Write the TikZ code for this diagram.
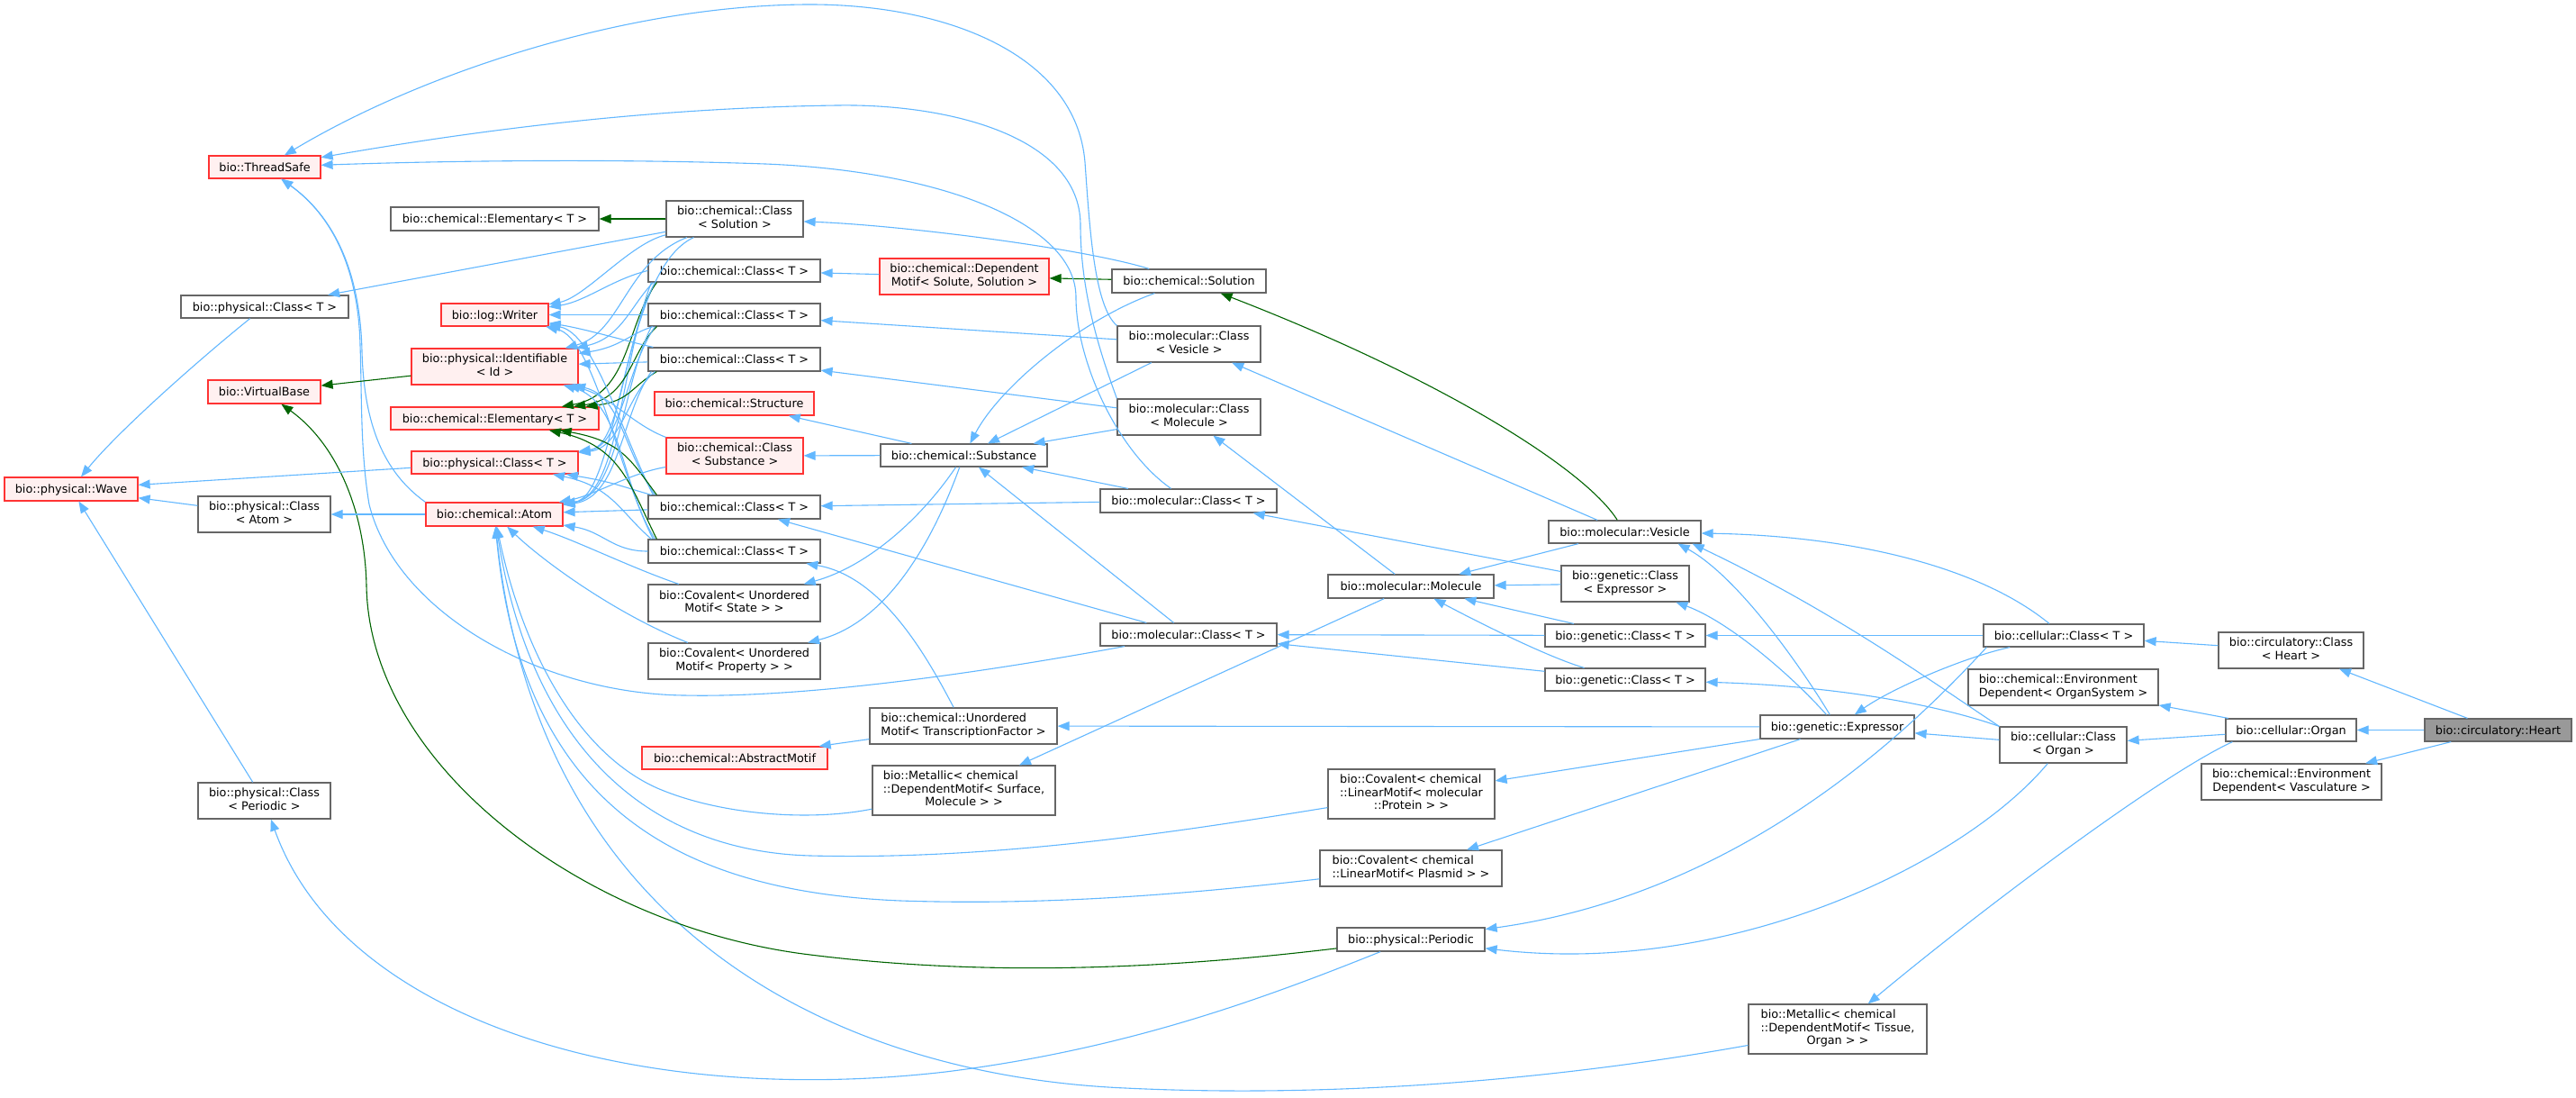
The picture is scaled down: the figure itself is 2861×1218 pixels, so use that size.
\documentclass[tikz,border=0pt]{standalone}
\usepackage{fontspec}
\setmainfont{DejaVu Sans}
\usetikzlibrary{arrows.meta}
\definecolor{edgeblue}{HTML}{63B8FF}
\definecolor{edgegreen}{HTML}{006400}
\definecolor{boxgray}{HTML}{666666}
\definecolor{boxred}{HTML}{FF3333}
\definecolor{fillred}{HTML}{FFF0F0}
\definecolor{fillgray}{HTML}{999999}
\newcommand{\twoln}[2]{\begin{tabular}{@{}l@{}}#1\\\multicolumn{1}{@{}c@{}}{#2}\end{tabular}}
\newcommand{\threeln}[3]{\begin{tabular}{@{}l@{}}#1\\#2\\\multicolumn{1}{@{}c@{}}{#3}\end{tabular}}
\begin{document}
\begin{tikzpicture}[x=1pt,y=-1pt,
  box/.style={draw, line width=1.2pt, inner sep=0pt, text=black, font=\fontsize{12.8}{14.5}\selectfont},
  wbox/.style={box, draw=boxgray, fill=white},
  rbox/.style={box, draw=boxred, fill=fillred},
  gbox/.style={box, draw=boxgray, fill=fillgray},
  one/.style={text height=10pt, text depth=1pt},
  be/.style={draw=edgeblue, line width=1.1pt, -{Triangle[length=13pt,width=10pt]}},
  ge/.style={draw=edgegreen, line width=1.1pt, -{Triangle[length=13pt,width=10pt]}}]
\fill[white] (0,0) rectangle (2861,1218);
\useasboundingbox (0,0) rectangle (2861,1218);

% ---------- nodes ----------
\node[rbox,one,minimum width=124pt,minimum height=25pt] (ts) at (294,185.5) {bio::ThreadSafe};
\node[wbox,one,minimum width=231pt,minimum height=26pt] (elemW) at (549.5,243) {bio::chemical::Elementary< T >};
\node[wbox,one,minimum width=186pt,minimum height=25pt] (physW) at (294,340.5) {bio::physical::Class< T >};
\node[rbox,one,minimum width=119pt,minimum height=25pt] (writer) at (549.5,349.5) {bio::log::Writer};
\node[rbox,minimum width=185pt,minimum height=40pt] (ident) at (549.5,407) {\twoln{bio::physical::Identifiable}{< Id >}};
\node[rbox,one,minimum width=125pt,minimum height=26pt] (vbase) at (293.5,435) {bio::VirtualBase};
\node[rbox,one,minimum width=231pt,minimum height=25pt] (elemR) at (549.5,464.5) {bio::chemical::Elementary< T >};
\node[rbox,one,minimum width=185pt,minimum height=25pt] (physR) at (549.5,513.5) {bio::physical::Class< T >};
\node[rbox,one,minimum width=148pt,minimum height=26pt] (wave) at (79,543) {bio::physical::Wave};
\node[wbox,minimum width=147pt,minimum height=40pt] (clsAtom) at (293.5,571) {\twoln{bio::physical::Class}{< Atom >}};
\node[rbox,one,minimum width=152pt,minimum height=26pt] (atom) at (549,571) {bio::chemical::Atom};
\node[wbox,minimum width=147pt,minimum height=40pt] (clsPer) at (293.5,889) {\twoln{bio::physical::Class}{< Periodic >}};

\node[wbox,minimum width=152pt,minimum height=40pt] (cs) at (816,243) {\twoln{bio::chemical::Class}{< Solution >}};
\node[wbox,one,minimum width=191pt,minimum height=25pt] (c1) at (815.5,300.5) {bio::chemical::Class< T >};
\node[wbox,one,minimum width=191pt,minimum height=25pt] (c2) at (815.5,349.5) {bio::chemical::Class< T >};
\node[wbox,one,minimum width=191pt,minimum height=26pt] (c3) at (815.5,399) {bio::chemical::Class< T >};
\node[rbox,one,minimum width=177pt,minimum height=26pt] (struct) at (815.5,448) {bio::chemical::Structure};
\node[rbox,minimum width=152pt,minimum height=40pt] (csub) at (816,506) {\twoln{bio::chemical::Class}{< Substance >}};
\node[wbox,one,minimum width=191pt,minimum height=26pt] (c4) at (815.5,563) {bio::chemical::Class< T >};
\node[wbox,one,minimum width=191pt,minimum height=26pt] (c5) at (815.5,612) {bio::chemical::Class< T >};
\node[wbox,minimum width=191pt,minimum height=41pt] (covState) at (815.5,669.5) {\twoln{bio::Covalent< Unordered}{Motif< State > >}};
\node[wbox,minimum width=191pt,minimum height=40pt] (covProp) at (815.5,734) {\twoln{bio::Covalent< Unordered}{Motif< Property > >}};
\node[rbox,one,minimum width=206pt,minimum height=25pt] (absMotif) at (816,841.5) {bio::chemical::AbstractMotif};

\node[rbox,minimum width=188pt,minimum height=40pt] (depMotif) at (1071,307) {\twoln{bio::chemical::Dependent}{Motif< Solute, Solution >}};
\node[wbox,one,minimum width=185pt,minimum height=25pt] (subst) at (1070.5,505.5) {bio::chemical::Substance};
\node[wbox,minimum width=208pt,minimum height=40pt] (unord) at (1070,806) {\twoln{bio::chemical::Unordered}{Motif< TranscriptionFactor >}};
\node[wbox,minimum width=203pt,minimum height=55pt] (metSurf) at (1070.5,877.5) {\threeln{bio::Metallic< chemical}{::DependentMotif< Surface,}{Molecule > >}};

\node[wbox,one,minimum width=171pt,minimum height=26pt] (sol) at (1320.5,312) {bio::chemical::Solution};
\node[wbox,minimum width=159pt,minimum height=40pt] (mcVes) at (1320.5,382) {\twoln{bio::molecular::Class}{< Vesicle >}};
\node[wbox,minimum width=159pt,minimum height=40pt] (mcMol) at (1320.5,463) {\twoln{bio::molecular::Class}{< Molecule >}};
\node[wbox,one,minimum width=196pt,minimum height=26pt] (mcA) at (1320,556) {bio::molecular::Class< T >};
\node[wbox,one,minimum width=196pt,minimum height=25pt] (mcB) at (1320,704.5) {bio::molecular::Class< T >};

\node[wbox,one,minimum width=184pt,minimum height=26pt] (molecule) at (1567,651) {bio::molecular::Molecule};
\node[wbox,minimum width=185pt,minimum height=55pt] (covProt) at (1567.5,881.5) {\threeln{bio::Covalent< chemical}{::LinearMotif< molecular}{::Protein > >}};
\node[wbox,minimum width=202pt,minimum height=40pt] (covPlas) at (1567,964) {\twoln{bio::Covalent< chemical}{::LinearMotif< Plasmid > >}};
\node[wbox,one,minimum width=164pt,minimum height=26pt] (periodic) at (1567,1043) {bio::physical::Periodic};

\node[wbox,one,minimum width=169pt,minimum height=25pt] (vesicle) at (1804.5,590.5) {bio::molecular::Vesicle};
\node[wbox,minimum width=142pt,minimum height=40pt] (gcExp) at (1805,648) {\twoln{bio::genetic::Class}{< Expressor >}};
\node[wbox,one,minimum width=178pt,minimum height=25pt] (gcA) at (1805,705.5) {bio::genetic::Class< T >};
\node[wbox,one,minimum width=178pt,minimum height=25pt] (gcB) at (1805,754.5) {bio::genetic::Class< T >};

\node[wbox,one,minimum width=171pt,minimum height=26pt] (expr) at (2040.5,807) {bio::genetic::Expressor};
\node[wbox,minimum width=198pt,minimum height=55pt] (metTis) at (2041,1142.5) {\threeln{bio::Metallic< chemical}{::DependentMotif< Tissue,}{Organ > >}};

\node[wbox,one,minimum width=178pt,minimum height=25pt] (cellT) at (2292,705.5) {bio::cellular::Class< T >};
\node[wbox,minimum width=211pt,minimum height=40pt] (envOS) at (2291.5,763) {\twoln{bio::chemical::Environment}{Dependent< OrganSystem >}};
\node[wbox,minimum width=141pt,minimum height=40pt] (cellOrgan) at (2291.5,827) {\twoln{bio::cellular::Class}{< Organ >}};

\node[wbox,minimum width=161pt,minimum height=40pt] (circCls) at (2544.5,722) {\twoln{bio::circulatory::Class}{< Heart >}};
\node[wbox,one,minimum width=145pt,minimum height=25pt] (organ) at (2544.5,810.5) {bio::cellular::Organ};
\node[wbox,minimum width=200pt,minimum height=40pt] (envVas) at (2545,868) {\twoln{bio::chemical::Environment}{Dependent< Vasculature >}};
\node[gbox,one,minimum width=163pt,minimum height=25pt] (heart) at (2774.5,810.5) {bio::circulatory::Heart};

% ---------- right part ----------
\draw[be] (heart) -- (organ);
\draw[be] (heart) -- (circCls);
\draw[be] (heart) -- (envVas);
\draw[be] (circCls) -- (cellT);
\draw[be] (organ) -- (envOS);
\draw[be] (organ) -- (cellOrgan);
\draw[be] ([xshift=8pt]organ.south west) .. controls (2400,860) and (2200,1010) .. (metTis);
\draw[be] (cellOrgan) -- (expr);
\draw[be] (cellOrgan.north west) .. controls (2150,760) and (2040,680) .. ([xshift=-10pt]vesicle.south east);
\draw[be] (cellOrgan) .. controls (2180,960) and (1920,1085) .. (periodic);
\draw[be] (cellOrgan.north west) .. controls (2160,785) and (2050,762) .. (gcB);
\draw[be] (cellT) .. controls (2180,730) and (2100,765) .. (expr);
\draw[be] (cellT) -- (gcA);
\draw[be] (cellT) .. controls (2200,630) and (2060,595) .. (vesicle);
\draw[be] ([xshift=4pt]cellT.south west) .. controls (2140,790) and (1950,990) .. (periodic);

\draw[be] (expr) .. controls (2000,740) and (1930,640) .. ([xshift=-26pt]vesicle.south east);
\draw[be] (expr) .. controls (1990,750) and (1920,690) .. (gcExp);
\draw[be] (expr) -- (unord);
\draw[be] (expr) -- (covProt);
\draw[be] (expr) -- (covPlas);

\draw[ge] (vesicle) .. controls (1760,520) and (1600,420) .. (sol);
\draw[be] (vesicle) -- (mcVes);
\draw[be] (vesicle) -- (molecule);
\draw[be] (molecule) -- (mcMol);
\draw[be] (molecule) -- (metSurf);
\draw[be] (gcExp) -- (molecule);
\draw[be] (gcExp) -- (mcA);
\draw[be] (gcA) -- (molecule);
\draw[be] (gcA) -- (mcB);
\draw[be] (gcB) .. controls (1720,730) and (1640,690) .. (molecule);
\draw[be] (gcB) -- (mcB);

% ---------- middle ----------
\draw[ge] (sol) -- (depMotif);
\draw[be] (sol) .. controls (1200,275) and (1000,250) .. (cs);
\draw[be] (sol) .. controls (1200,355) and (1110,430) .. (subst);
\draw[be] (mcVes) -- (c2);
\draw[be] (mcVes) -- (subst);
\draw[be] (mcMol) -- (c3);
\draw[be] (mcMol) -- (subst);
\draw[be] (mcA) -- (c4);
\draw[be] (mcA) -- (subst);
\draw[be] (mcB) -- (c4);
\draw[be] (mcB) -- (subst);
\draw[be] (subst) -- (struct);
\draw[be] (subst) -- (csub);
\draw[be] (subst) .. controls (1020,580) and (960,630) .. (covState);
\draw[be] (subst) .. controls (1040,590) and (990,690) .. (covProp);
\draw[be] (unord) .. controls (1030,730) and (980,640) .. (c5);
\draw[be] (unord) -- (absMotif);
\draw[be] (depMotif) -- (c1);

% ---------- arcs to ThreadSafe ----------
\draw[be] (mcVes.north west) .. controls (1215,340) and (1210,250) .. (1205,180) .. controls (1195,60) and (1050,5) .. (900,5) .. controls (700,5) and (470,80) .. (ts);
\draw[be] (mcMol.north west) .. controls (1225,400) and (1200,330) .. (1200,250) .. controls (1200,150) and (1050,115) .. (930,117) .. controls (700,120) and (500,150) .. (ts);
\draw[be] (mcA) .. controls (1240,500) and (1195,400) .. (1195,330) .. controls (1195,250) and (1050,190) .. (850,182) .. controls (650,175) and (450,180) .. (ts);
\draw[be] (mcB) .. controls (1100,745) and (900,775) .. (760,772) .. controls (600,770) and (440,680) .. (410,560) .. controls (400,500) and (402,440) .. (400,383) .. controls (398,300) and (370,240) .. (ts);
\draw[be] (atom.north west) .. controls (420,520) and (404,460) .. (402,390) .. controls (400,300) and (370,240) .. (ts);

% ---------- left bundle ----------
\draw[ge] (cs) -- (elemW);
\draw[be] (cs) -- (physW);
\draw[be] (cs) .. controls (700,270) and (650,330) .. (writer);
\draw[be] (cs) .. controls (695,290) and (690,370) .. (ident);
\draw[be] (cs) .. controls (690,300) and (688,550) .. (atom);

\draw[be] (c1.west) .. controls (680,310) and (650,335) .. (writer);
\draw[be] ([xshift=6pt]c1.south west) .. controls (700,340) and (690,375) .. (ident);
\draw[ge] ([xshift=10pt]c1.south west) .. controls (695,360) and (700,438) .. (elemR);
\draw[be] ([xshift=8pt]c1.south west) .. controls (692,380) and (690,495) .. (physR);
\draw[be] ([xshift=4pt]c1.south west) .. controls (690,400) and (688,550) .. (atom);

\draw[be] (c2) -- (writer);
\draw[be] ([xshift=6pt]c2.south west) .. controls (700,370) and (690,385) .. (ident);
\draw[ge] ([xshift=10pt]c2.south west) .. controls (700,390) and (700,442) .. (elemR);
\draw[be] ([xshift=8pt]c2.south west) .. controls (695,410) and (690,495) .. (physR);
\draw[be] ([xshift=4pt]c2.south west) .. controls (690,430) and (688,550) .. (atom);

\draw[be] ([xshift=6pt]c3.north west) .. controls (700,380) and (650,365) .. (writer);
\draw[be] (c3) -- (ident);
\draw[ge] ([xshift=10pt]c3.south west) .. controls (700,430) and (700,445) .. (elemR);
\draw[be] ([xshift=8pt]c3.south west) .. controls (695,440) and (690,497) .. (physR);
\draw[be] ([xshift=4pt]c3.south west) .. controls (690,460) and (688,552) .. (atom);

\draw[be] ([xshift=6pt]c4.north west) .. controls (690,480) and (660,370) .. (writer);
\draw[be] ([xshift=8pt]c4.north west) .. controls (692,500) and (690,440) .. (ident);
\draw[ge] ([xshift=10pt]c4.north west) .. controls (700,510) and (690,490) .. (elemR);
\draw[be] ([xshift=4pt]c4.north west) .. controls (690,540) and (680,535) .. (physR);
\draw[be] (c4) -- (atom);

\draw[be] ([xshift=6pt]c5.north west) .. controls (685,520) and (660,375) .. (writer);
\draw[be] ([xshift=8pt]c5.north west) .. controls (690,540) and (690,445) .. (ident);
\draw[ge] ([xshift=10pt]c5.north west) .. controls (700,540) and (690,495) .. (elemR);
\draw[be] ([xshift=4pt]c5.north west) .. controls (690,570) and (680,540) .. (physR);
\draw[be] (c5) .. controls (680,612) and (670,590) .. (atom);

\draw[be] (csub.north west) .. controls (700,470) and (680,440) .. (ident);
\draw[be] (csub) .. controls (700,525) and (660,550) .. (atom);

% ---------- into Atom from below ----------
\draw[be] (covState) .. controls (700,630) and (640,600) .. (atom);
\draw[be] (covProp) .. controls (680,680) and (600,620) .. (atom);
\draw[be] (metSurf) .. controls (900,912) and (800,905) .. (730,875) .. controls (640,835) and (580,720) .. (atom);
\draw[be] (covProt) .. controls (1300,925) and (1100,955) .. (900,950) .. controls (720,945) and (590,830) .. (atom);
\draw[be] (covPlas) .. controls (1300,995) and (1150,1005) .. (1000,1000) .. controls (760,990) and (580,900) .. (atom);
\draw[be] (metTis) .. controls (1750,1195) and (1500,1220) .. (1250,1208) .. controls (950,1195) and (600,1050) .. (atom);

% ---------- Periodic ----------
\draw[be] (periodic) .. controls (1400,1110) and (1250,1165) .. (1050,1190) .. controls (700,1230) and (380,1130) .. (clsPer);
\draw[ge] (periodic) .. controls (1300,1075) and (1100,1085) .. (900,1060) .. controls (650,1030) and (410,850) .. (407,650) .. controls (405,560) and (370,490) .. (vbase);

% ---------- far left ----------
\draw[be] (physW) .. controls (220,400) and (130,480) .. (wave);
\draw[be] (physR) -- (wave);
\draw[be] (clsAtom) -- (wave);
\draw[be] (clsPer) -- (wave);
\draw[be] (atom) -- (clsAtom);
\draw[ge] (ident) -- (vbase);
\end{tikzpicture}
\end{document}
